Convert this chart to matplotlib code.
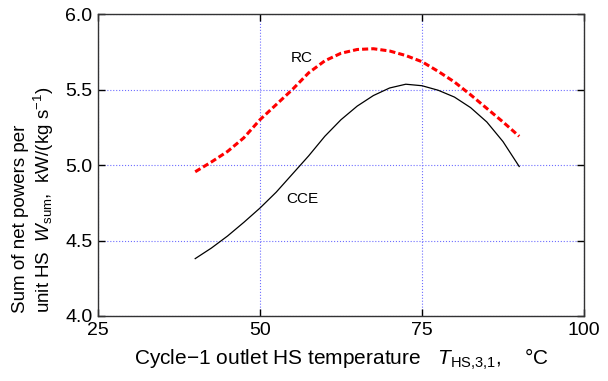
import matplotlib
matplotlib.use("Agg")
import matplotlib.pyplot as plt

plt.rcParams['font.family'] = ['Liberation Sans', 'DejaVu Sans']
plt.rcParams['mathtext.fontset'] = 'custom'
plt.rcParams['mathtext.rm'] = 'Liberation Sans'
plt.rcParams['mathtext.it'] = 'Liberation Sans:italic'

# outlet HS temperature of cycle 1, degC
t_hs = [40, 42.5, 45, 47.5, 50, 52.5, 55, 57.5, 60, 62.5, 65, 67.5,
        70, 72.5, 75, 77.5, 80, 82.5, 85, 87.5, 90]
# sum of net powers per unit HS, kW/(kg/s)
w_cce = [4.38, 4.45, 4.53, 4.62, 4.715, 4.82, 4.94, 5.06, 5.19, 5.30, 5.39, 5.46,
         5.51, 5.535, 5.525, 5.495, 5.45, 5.38, 5.285, 5.155, 4.99]
w_rc = [4.955, 5.02, 5.09, 5.18, 5.30, 5.40, 5.50, 5.61, 5.69, 5.74, 5.765, 5.77,
        5.755, 5.725, 5.684, 5.62, 5.55, 5.465, 5.375, 5.285, 5.19]

xticks = [25, 50, 75, 100]
yticks = [4.0, 4.5, 5.0, 5.5, 6.0]

fig = plt.figure(figsize=(6.08, 3.81), dpi=100)
ax = fig.add_axes([98 / 608, 1 - 316 / 381, (584 - 98) / 608, (316 - 14) / 381])

ax.plot(t_hs, w_cce, color='black', lw=0.9)
ax.plot(t_hs, w_rc, color='red', lw=2.2, dashes=(2.0, 1.0))

ax.text(56.4, 5.71, 'RC', fontsize=11, ha='center', va='center')
ax.text(56.6, 4.775, 'CCE', fontsize=11, ha='center', va='center')

ax.set_xlim(25, 100)
ax.set_ylim(4.0, 6.0)
ax.set_xticks(xticks)
ax.set_yticks(yticks)
ax.set_yticklabels(['%.1f' % v for v in yticks])
ax.grid(True, color='#6e6eff', ls=':', lw=0.8)
ax.tick_params(direction='in', length=5, width=1, labelsize=14,
               top=True, right=True, pad=4)
for s in ax.spines.values():
    s.set_color('#333333')
    s.set_linewidth(1)

ax.set_xlabel(r'Cycle$-$1 outlet HS temperature   $\mathit{T}_{\mathrm{HS{,}3{,}1}}$,    °C',
              fontsize=15, labelpad=6)
fig.text(34 / 608, 1 - 313 / 381,
         'Sum of net powers per\nunit HS  $\\mathit{W}_{\\mathrm{sum}}$,  kW/(kg s$^{-1}$)',
         rotation=90, ha='center', va='bottom', multialignment='left', fontsize=13.5)

fig.savefig('out.png', dpi=100)
